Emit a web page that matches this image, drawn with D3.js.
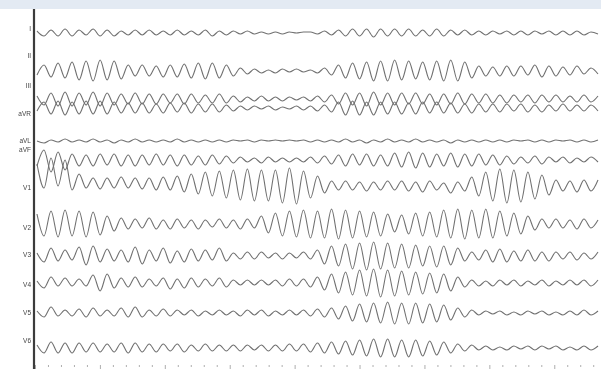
<!DOCTYPE html>
<html>
<head>
<meta charset="utf-8">
<script src="https://cdn.jsdelivr.net/npm/d3@7"></script>
<style>
  html, body { margin: 0; padding: 0; background: #fff; }
  svg { display: block; }
</style>
</head>
<body>
<div id="ecg"></div>
<script>
"use strict";

// lead names, top to bottom
const leads = ["I", "II", "III", "aVR", "aVL", "aVF", "V1", "V2", "V3", "V4", "V5", "V6"];
// baseline of each lead on the page
const baselines = [33, 71, 99, 108, 141, 160, 186, 224, 256, 283, 313, 348];
// label positions (y)
const labelY = [31, 58, 88, 116, 143, 152, 190, 230, 257, 287, 315, 343];

// successive peaks and troughs of each lead (tenths of mV, roughly)
const leadI = [2,-3,3,-3,4,-3,3,-2,4,-3,3,-3,2,-2,3, -2,3,-2,2,-2,3,-2,2,-2,3,-3,2,-2,2,-1,2,-1,1,-1, 1,-1,1,0,1,1,-1,2,-2, 3,-3,4,-3,4,-4,4,-3,4,-3,4,-3,3,-3,4,-3,3,-2,3,-2, 2,-2,2,-1,2,-2,2,-2,2,-1,2,-2,2,-2,2,-2,1,-1];
const leadII = [-4,6,-6,8,-7,9,-9,10,-10,11,-9,10,-8,6,-5, 6,-5,5,-6,6,-6,7,-7,8,-8,8,-7,6,-5,3,-3,2,-2,1, -2,2,-1,2,-1,1,-2,3,-4, 6,-7,8,-8,9,-10,10,-10,11,-9,10,-8,9,-9,10,-10,11,-10,9,-7, 5,-5,4,-5,5,-5,5,-4,6,-6,5,-5,4,-4,5,-3,3,-3];
const leadIII = [3,-6,6,-7,7,-7,6,-6,7,-7,6,-6,5,-5,6, -5,5,-5,5,-4,5,-5,5,-4,4,-4,5,-4,3,-3,2,-2,3,-2, 2,-2,2,-1,2,-2,3,-3,4, -5,6,-6,6,-7,7,-6,6,-6,6,-5,6,-5,5,-6,5,-5,6,-5,5, -4,5,-4,4,-4,4,-3,4,-4,4,-3,4,-3,3,-3,4,-3,3];
const leadAVR = [-3,6,-6,7,-7,6,-6,7,-6,7,-6,6,-5,5,-5, 5,-5,4,-5,5,-4,5,-5,4,-4,4,-4,3,-3,2,-2,2,-1,2, -2,1,-1,2,-2,2,-3,3,-4, 6,-7,7,-7,6,-7,6,-6,6,-6,5,-6,6,-5,6,-5,5,-5,4,-5, 4,-4,4,-4,4,-3,4,-4,3,-4,3,-3,4,-3,3,-3,3,-3];
const leadAVL = [0,-2,1,-1,2,-1,1,-1,2,-1,1,-2,1,-1,2, -1,1,-1,1,-1,2,-1,1,-1,1,-1,1,-1,1,0,1,-1,1,0, 1,0,1,0,1,-1,1,-1,1, -1,2,-1,1,-2,1,-1,2,-1,1,-1,2,-1,1,-1,1,-2,1,-1,1, -1,1,-1,1,-1,1,0,1,-1,1,-1,1,0,1,-1,1,-1,1];
const leadAVF = [-6,10,-12,8,-10,6,-6,5,-6,6,-5,6,-6,5,-6, 5,-5,6,-5,5,-6,5,-5,4,-5,5,-4,4,-3,3,-2,2,-3,3, -2,2,-2,2,-2,3,-3,4,-4, 5,-6,6,-5,6,-6,5,-6,7,-7,8,-8,7,-7,6,-6,7,-7,6,-6, 6,-5,5,-5,4,-4,3,-3,4,-4,3,-2,3,-3,2,-2,3,-2];
const leadV1 = [22,-2,28,0,26,-4,12,-2,8,-3,8,-2,9,-2,8, -3,8,-4,9,-4,10,-6,12,-8,14,-10,15,-12,16,-14,17,-15,16,-15, 16,-17,18,-18,15,-12,10,-7,5, -4,5,-4,4,-5,4,-4,5,-4,5, -5,4,-6,5,-4,3,-7,4,-5, 9,-10,14,-15,17,-17,16,-16,14,-13,11,-9,6, -5,5,-6,6,-5,6];
const leadV2 = [10,-12,13,-13,14,-12,13,-13,12,-11,8,-7,6,-5, 5,-4,6,-5,4,-5,5,-4,4,-5,4,-3,5,-4,4,-5,5,-4, 8,-9,11,-12,13,-13,14,-14,13,-14,15,-15,14,-14,13,-13,12,-12,10, -8,9,-10,11,-12,12,-13,14,-14,15,-15,14,-14,15,-14,13,-12,11,-10,8,-6,5,-4, 5,-4,4,-5,5,-4,4];
const leadV3 = [3,-6,8,-5,6,-4,9,-9,10,-6,7,-5,6,-6,9, -8,6,-5,8,-7,5,-6,7,-5, 6,-4,8,-5,3,-3,4,-3,4,-2,3,-3,3,-2,4,-3,6, -8,10,-10,12,-13,13,-14,14,-13,13,-12,12,-12,11,-10,10,-11,10,-9,8, -5,4,-4,6,-6,7,-6,5,-5,6,-5,4,-5,4,-3,4,-4,3,-3,4];
const leadV4 = [2,-5,6,-3,5,-3,4,-3,8,-8,9,-5,5,-4,6, -4,4,-3,5,-6,4,-5,5,-4, 4,-3,5,-4,3,-2,3,-2,3,-2,3,-3,4,-3,4,-4,6, -7,9,-10,11,-12,13,-13,14,-14,13,-13,12,-12,11,-11,10,-10,9,-8,6, -4,3,-3,2,-3,3,-2,3,-3,2,-2,3,-3,2,-2,3,-2,3,-3,3];
const leadV5 = [2,-4,6,-3,3,-3,4,-4,5,-3,3,-3,5,-4,6, -4,3,-3,4,-3,3,-2,3,-3,2,-2,3,-2,2,-3,3,-2,3,-3, 2,-2,3,-2,3,-3,4,-4,5, -6,7,-8,9,-9,10,-10,11,-11,10,-11,10,-10,9,-9,8,-7,5,-4,3, -2,2,-1,2,-2,1,-2,2,-1,2,-2,1,-2,2,-2,3,-2,2];
const leadV6 = [3,-5,6,-5,5,-5,5,-4,5,-4,4,-4,5,-5,5, -4,4,-4,4,-3,4,-4,3,-3,4,-3,3,-3,3,-3,3,-2,3,-3, 3,-3,4,-3,4,-4,5,-5,6, -6,7,-7,8,-8,9,-9,9,-9,8,-9,8,-8,7,-7,6,-5,4,-3,3, -2,2,-2,1,-2,2,-1,2,-2,2,-1,2,-2,1,-2,2,-2,2];

const traces = [leadI, leadII, leadIII, leadAVR, leadAVL, leadAVF, leadV1, leadV2, leadV3, leadV4, leadV5, leadV6];

// timing marks along the bottom (seconds)
const majorTicks = [0, 1, 2, 3, 4, 5, 6, 7, 8];
const minorTicks = [0.2,0.4,0.6,0.8, 1.2,1.4,1.6,1.8, 2.2,2.4,2.6,2.8, 3.2,3.4,3.6,3.8, 4.2,4.4,4.6,4.8, 5.2,5.4,5.6,5.8, 6.2,6.4,6.6,6.8, 7.2,7.4,7.6,7.8, 8.2,8.4,8.6,8.8];

const width = 601;
const height = 369;
const left = 35;

const svg = d3.select("#ecg")
  .append("svg")
  .attr("width", width)
  .attr("height", height);

svg.append("rect")
  .attr("x", 0).attr("y", 0)
  .attr("width", width).attr("height", 9)
  .attr("fill", "#e3eaf3");

const tScale = d3.scaleLinear().domain([0, 8.72]).range([left, width]);
const ampScale = d3.scaleLinear().domain([-10, 10]).range([10, -10]);

traces.forEach((vals, k) => {
  const xScale = d3.scaleLinear().domain([0, vals.length - 1]).range([37, 598]);
  const line = d3.line()
    .x((d, i) => xScale(i))
    .y(d => baselines[k] + ampScale(d))
    .curve(d3.curveMonotoneX);
  svg.append("path")
    .datum(vals)
    .attr("d", line)
    .attr("fill", "none")
    .attr("stroke", "#707070")
    .attr("stroke-width", 1.1)
    .attr("stroke-linejoin", "round");
});

// grayscale filter keeps the small labels from picking up coloured fringes
const labels = svg.append("g").style("filter", "grayscale(1)");
labels.selectAll("text")
  .data(leads)
  .enter()
  .append("text")
  .attr("x", 31)
  .attr("y", (d, i) => labelY[i])
  .attr("text-anchor", "end")
  .attr("font-family", "Liberation Sans, Arial, sans-serif")
  .attr("font-size", 6.5)
  .attr("fill", "#444")
  .text(d => d);

const minorAxis = d3.axisBottom(tScale).tickValues(minorTicks).tickSize(2).tickFormat("");
const majorAxis = d3.axisBottom(tScale).tickValues(majorTicks).tickSize(4).tickFormat("");

const tickGroup = svg.append("g").attr("transform", "translate(0, 365)");
tickGroup.append("g").call(minorAxis);
tickGroup.append("g").call(majorAxis);
tickGroup.selectAll(".domain").remove();
tickGroup.selectAll("line").attr("stroke", "#999").attr("stroke-width", 0.8);

svg.append("line")
  .attr("x1", 34).attr("x2", 34)
  .attr("y1", 9).attr("y2", height)
  .attr("stroke", "#3c3c3c")
  .attr("stroke-width", 2.2);
</script>
</body>
</html>
